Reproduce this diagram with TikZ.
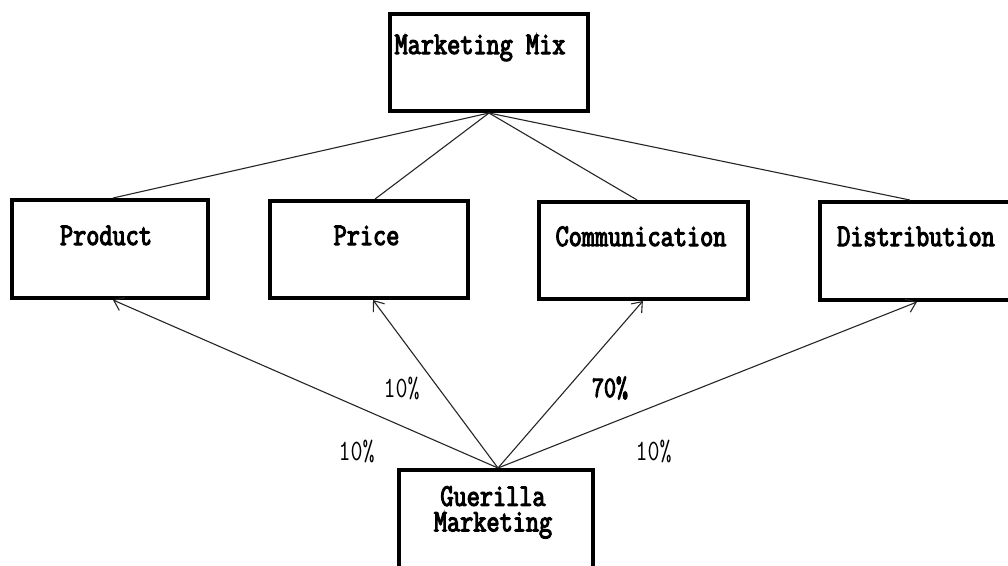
\documentclass[tikz,border=0pt]{standalone}
\usepackage{fontspec}
\usetikzlibrary{arrows.meta,calc}
\newfontfamily\boxfont[FakeStretch=0.81,FakeBold=3.5]{Latin Modern Mono}
\newfontfamily\pctfont[FakeStretch=0.79]{Latin Modern Mono}
\newfontfamily\pctboldfont[FakeStretch=0.79,FakeBold=3.5]{Latin Modern Mono}

\tikzset{
  box/.style={draw=black, line width=4pt, fill=white, rectangle, inner sep=0pt},
  boxtext/.style={font=\boxfont\fontsize{31.5}{25.5}\selectfont, inner sep=0pt, anchor=base, align=center},
  pct/.style={font=\pctfont\fontsize{29.5}{29.5}\selectfont, inner sep=0pt, anchor=base},
  pctbold/.style={pct, font=\pctboldfont\fontsize{29.5}{29.5}\selectfont},
  link/.style={draw=black!85, line width=1.1pt},
  arrowlink/.style={link, -{Straight Barb[length=9pt,width=14pt,line width=1.1pt]}}
}

\begin{document}
\begin{tikzpicture}[x=1pt, y=-1pt]
  \clip (0,0) rectangle (1008,565);
  \fill[white] (0,0) rectangle (1008,565);

  % boxes (positions by their centres, border centred on the outline)
  \node[box, minimum width=198pt, minimum height=97pt] (mix)  at (489,62.5)  {};
  \node[box, minimum width=196pt, minimum height=98pt] (prod) at (110,249)   {};
  \node[box, minimum width=198pt, minimum height=97pt] (price) at (369,249.5) {};
  \node[box, minimum width=209pt, minimum height=97pt] (comm) at (643.5,250.5) {};
  \node[box, minimum width=200pt, minimum height=98pt] (dist) at (920,251)   {};
  \node[box, minimum width=194pt, minimum height=110pt] (guer) at (496,525)  {};

  % box texts
  \node[boxtext] (tmix)   at (480,54)  {Marketing Mix};
  \node[boxtext] (tprod)  at (106,245) {Product};
  \node[boxtext] (tprice) at (366.5,245) {Price};
  \node[boxtext] (tcomm)  at (641,246) {Communication};
  \node[boxtext] (tdist)  at (916,246) {Distribution};
  \node[boxtext, anchor=north] (tguer) at (493,486) {Guerilla\\Marketing};

  % attachment points
  \coordinate (mixB) at ($(mix.south west)!0.5!(mix.south east)$);
  \coordinate (guerT) at ($(guer.north west)!0.51!(guer.north east)$);

  % marketing mix to its four elements
  \draw[link] (mixB) -- ($(prod.north west)!0.515!(prod.north east)$);
  \draw[link] (mixB) -- ($(price.north west)!0.53!(price.north east)$);
  \draw[link] (mixB) -- ($(comm.north west)!0.47!(comm.north east)$);
  \draw[link] (mixB) -- ($(dist.north west)!0.45!(dist.north east)$);

  % guerilla marketing share of each element
  \draw[arrowlink] (guerT) -- ($(prod.south west)!0.515!(prod.south east)$);
  \draw[arrowlink] (guerT) -- ($(price.south west)!0.52!(price.south east)$);
  \draw[arrowlink] (guerT) -- ($(comm.south west)!0.497!(comm.south east)$);
  \draw[arrowlink] (guerT) -- ($(dist.south west)!0.485!(dist.south east)$);

  % shares
  \node[pct] (p1) at (401.5,397) {10\%};
  \node[pctbold] (p2) at (610,397) {70\%};
  \node[pct] (p3) at (356.5,460) {10\%};
  \node[pct] (p4) at (653.5,460) {10\%};
\end{tikzpicture}
\end{document}
